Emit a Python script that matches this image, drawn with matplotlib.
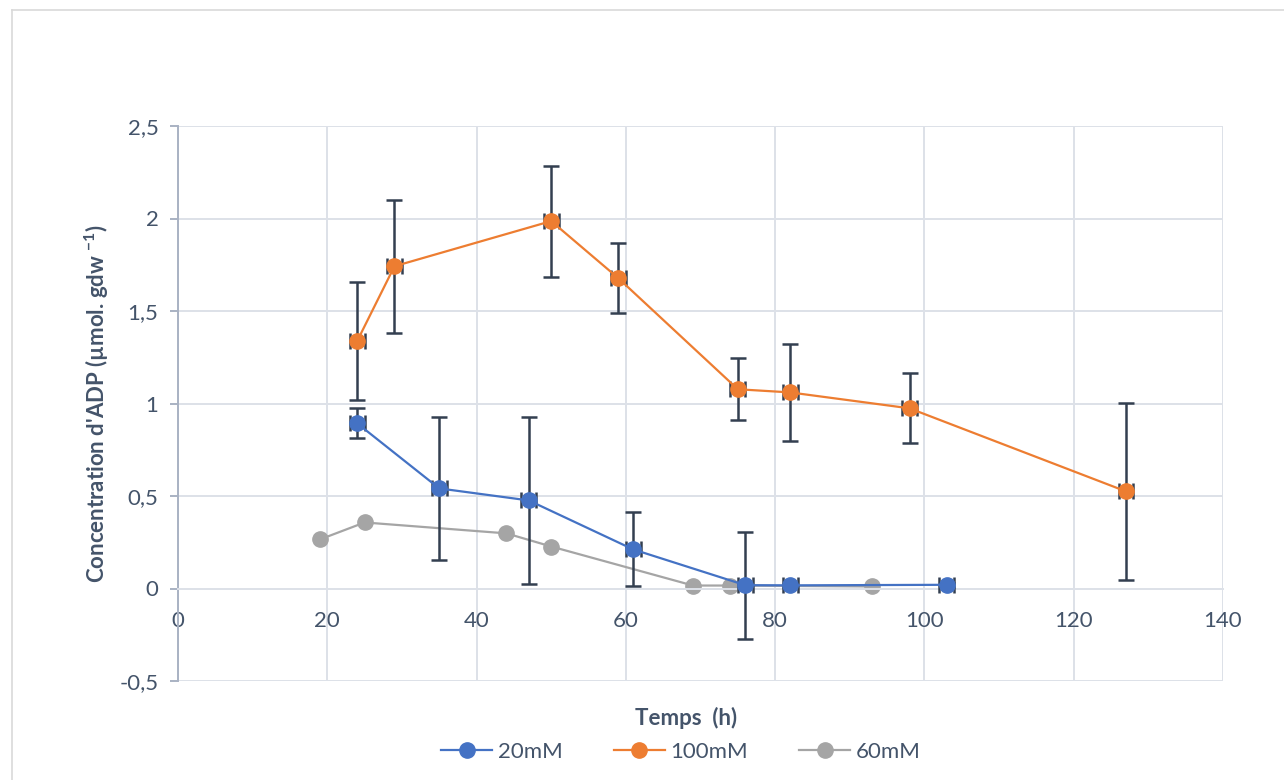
import numpy as np
import matplotlib
matplotlib.use("Agg")
from matplotlib import pyplot as plt
from matplotlib.lines import Line2D

plt.rcParams['font.family'] = ['Lato', 'DejaVu Sans']
plt.rcParams['mathtext.fontset'] = 'custom'
plt.rcParams['mathtext.rm'] = 'Lato'
plt.rcParams['mathtext.bf'] = 'Lato:bold'

# Mesures ADP (temps en h, concentration en µmol/gdw)
t_20 = [24, 35, 47, 61, 76, 82, 103]
c_20 = [0.893, 0.541, 0.476, 0.211, 0.018, 0.017, 0.02]
err_20 = [0.08, 0.385, 0.45, 0.2, 0.29, 0.01, 0.01]

t_100 = [24, 29, 50, 59, 75, 82, 98, 127]
c_100 = [1.337, 1.742, 1.986, 1.677, 1.077, 1.06, 0.974, 0.525]
err_100 = [0.32, 0.36, 0.30, 0.19, 0.167, 0.26, 0.19, 0.48]

t_60 = [19, 25, 44, 50, 69, 74, 93]
c_60 = [0.265, 0.357, 0.298, 0.227, 0.016, 0.016, 0.011]

t_err = 1.0  # incertitude sur le temps de prélèvement

yticks = [-0.5, 0, 0.5, 1, 1.5, 2, 2.5]
ytick_labels = ['-0,5', '0', '0,5', '1', '1,5', '2', '2,5']
xticks = [0, 20, 40, 60, 80, 100, 120, 140]

c_blue, c_orange, c_gray = '#4472C4', '#ED7D31', '#A5A5A5'
c_err = '#333F50'
c_text = '#44546A'
c_grid = '#DDE1E8'
c_axis = '#A9B2C3'

fig = plt.figure(figsize=(12.84, 7.80), dpi=100)
ax = fig.add_axes([178/1284, 1 - 681/780, (1223-178)/1284, (681-126)/780])

# cadre de la zone de graphique
for xs, ys in [([12/1284, 12/1284], [0, 1 - 10/780]), ([12/1284, 1], [1 - 10/780, 1 - 10/780])]:
    fig.add_artist(Line2D(xs, ys, transform=fig.transFigure, color='#D9D9D9', lw=1.2))

eb_kw = dict(fmt='none', ecolor=c_err, elinewidth=1.8, capsize=5.5, capthick=1.8, zorder=3)
mk_kw = dict(marker='o', markersize=11, linewidth=1.6)

ax.plot(t_60, c_60, color=c_gray, label='60mM', zorder=2, **mk_kw)
ax.errorbar(t_20, c_20, yerr=err_20, xerr=t_err, **eb_kw)
ax.plot(t_20, c_20, color=c_blue, label='20mM', zorder=4, **mk_kw)
ax.errorbar(t_100, c_100, yerr=err_100, xerr=t_err, **eb_kw)
ax.plot(t_100, c_100, color=c_orange, label='100mM', zorder=4, **mk_kw)

ax.set_xlim(0, 140)
ax.set_ylim(-0.5, 2.5)
ax.set_xticks(xticks)
ax.set_xticklabels([str(x) for x in xticks])
ax.set_yticks(yticks)
ax.set_yticklabels(ytick_labels)
ax.grid(True, color=c_grid, linewidth=1.4, zorder=0)
ax.set_axisbelow(True)

for s in ['top', 'right']:
    ax.spines[s].set_visible(False)
ax.spines['bottom'].set_position(('data', 0))
ax.spines['bottom'].set_color(c_grid)
ax.spines['bottom'].set_linewidth(1.4)
ax.spines['left'].set_color(c_axis)
ax.spines['left'].set_linewidth(1.4)
ax.tick_params(axis='x', length=0, pad=16, labelsize=16, labelcolor=c_text)
ax.tick_params(axis='y', length=6, width=1.4, color=c_axis, direction='out',
               pad=8, labelsize=16, labelcolor=c_text)

fig.text(686/1284, 1 - 718/780, 'Temps  (h)', ha='center', va='center',
         fontsize=16, fontweight='bold', color=c_text)
fig.text(97/1284, 1 - 404/780, r"Concentration d'ADP (µmol. gdw $^{\mathbf{-1}}$)",
         ha='center', va='center', rotation=90, fontsize=16,
         fontweight='bold', color=c_text)

handles, labels = ax.get_legend_handles_labels()
order = [labels.index(l) for l in ['20mM', '100mM', '60mM']]
fig.legend([handles[i] for i in order], [labels[i] for i in order],
           loc='center', bbox_to_anchor=(681/1284, 1 - 752/780), ncol=3,
           frameon=False, fontsize=16, labelcolor=c_text, handlelength=2.3,
           columnspacing=2.3, handletextpad=0.25)

fig.savefig('out.png', dpi=100)
